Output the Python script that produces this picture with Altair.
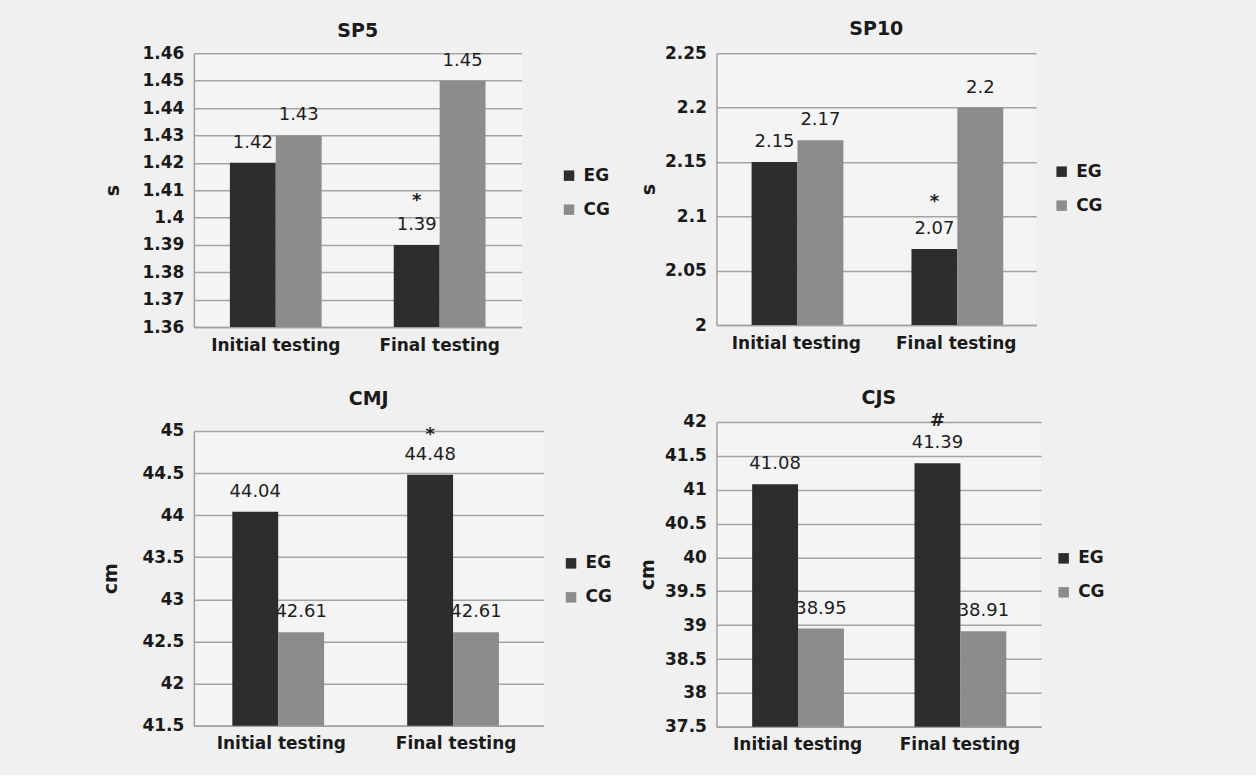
import altair as alt
import pandas as pd

# Shared categories
phases = ["Initial testing", "Final testing"]
groups = ["EG", "CG"]

# SP5 sprint time (s)
sp5_eg = [1.42, 1.39]
sp5_cg = [1.43, 1.45]
sp5_sig = ["", "*"]
sp5_ticks = [1.36, 1.37, 1.38, 1.39, 1.40, 1.41, 1.42, 1.43, 1.44, 1.45, 1.46]

# SP10 sprint time (s)
sp10_eg = [2.15, 2.07]
sp10_cg = [2.17, 2.20]
sp10_sig = ["", "*"]
sp10_ticks = [2.00, 2.05, 2.10, 2.15, 2.20, 2.25]

# CMJ jump height (cm)
cmj_eg = [44.04, 44.48]
cmj_cg = [42.61, 42.61]
cmj_sig = ["", "*"]
cmj_ticks = [41.5, 42.0, 42.5, 43.0, 43.5, 44.0, 44.5, 45.0]

# CJS jump height (cm)
cjs_eg = [41.08, 41.39]
cjs_cg = [38.95, 38.91]
cjs_sig = ["", "#"]
cjs_ticks = [37.5, 38.0, 38.5, 39.0, 39.5, 40.0, 40.5, 41.0, 41.5, 42.0]

FONT = "DejaVu Sans"
DARK = "#2d2d2d"
GREY = "#8c8c8c"


def panel(title, unit, eg, cg, sig, ticks, width, height,
          title_offset, title_pad, legend_x, legend_y, sig_dy):
    df = pd.DataFrame({
        "phase": phases + phases,
        "group": [groups[0]] * 2 + [groups[1]] * 2,
        "value": eg + cg,
        "sig": sig + ["", ""],
    })
    base = alt.Chart(df)
    x = alt.X("phase:N", sort=phases,
              scale=alt.Scale(paddingInner=0.44, paddingOuter=0.22),
              axis=alt.Axis(title=None, labelAngle=0, grid=False,
                            labelPadding=10))
    xo = alt.XOffset("group:N", sort=groups)
    y = alt.Y("value:Q",
              scale=alt.Scale(domain=[ticks[0], ticks[-1]], zero=False, nice=False),
              axis=alt.Axis(values=ticks, format="~g", title=unit,
                            titlePadding=title_pad, labelPadding=10))
    color = alt.Color("group:N", sort=groups,
                      scale=alt.Scale(domain=groups, range=[DARK, GREY]),
                      legend=alt.Legend(title=None, orient="none",
                                        legendX=legend_x, legendY=legend_y,
                                        symbolType="square", symbolSize=110,
                                        symbolStrokeWidth=0, rowPadding=16,
                                        labelFont=FONT, labelFontSize=17,
                                        labelFontWeight="bold", labelColor="#1a1a1a",
                                        labelOffset=6, padding=0))
    # bars start at the bottom of the value axis
    bars = base.mark_bar().encode(x=x, xOffset=xo, y=y,
                                  y2=alt.datum(ticks[0]), color=color)
    values = base.mark_text(dy=-20, font=FONT, fontSize=18, color="#1e1e1e",
                            baseline="middle").encode(
        x=x, xOffset=xo, y=y, text=alt.Text("value:Q", format="~g"))
    marks = base.transform_filter("datum.sig != ''").mark_text(
        dy=sig_dy, font=FONT, fontSize=18, fontWeight="bold",
        color="#1e1e1e", baseline="middle").encode(
        x=x, xOffset=xo, y=y, text="sig:N")
    return alt.layer(bars, values, marks).properties(
        width=width, height=height,
        title=alt.TitleParams(title, offset=title_offset, frame="group",
                              font=FONT, fontSize=19, fontWeight="bold",
                              color="#1a1a1a"))


sp5 = panel("SP5", "s", sp5_eg, sp5_cg, sp5_sig, sp5_ticks, 328, 274,
            3, 19, 367, 114, -44)
sp10 = panel("SP10", "s", sp10_eg, sp10_cg, sp10_sig, sp10_ticks, 320, 272,
             5, 6, 337, 110, -47)
cmj = panel("CMJ", "cm", cmj_eg, cmj_cg, cmj_sig, cmj_ticks, 350, 295,
            13, 21, 369, 124, -40)
cjs = panel("CJS", "cm", cjs_eg, cjs_cg, cjs_sig, cjs_ticks, 325, 305,
            4, 7, 339, 128, -42)

left = alt.vconcat(sp5, cmj, spacing=37).resolve_scale(
    x="independent", y="independent", color="independent").resolve_legend(color="independent")
right = alt.vconcat(sp10, cjs, spacing=38).resolve_scale(
    x="independent", y="independent", color="independent").resolve_legend(color="independent")

chart = alt.hconcat(left, right, spacing=26).resolve_scale(
    x="independent", y="independent", color="independent").resolve_legend(
    color="independent").properties(
    padding={"left": 102, "top": 20, "right": 151, "bottom": 22},
    background="#f0f0f0",
).configure_view(
    stroke=None, fill="#f4f4f4"
).configure_axis(
    labelFont=FONT, labelFontSize=17, labelFontWeight="bold", labelColor="#1a1a1a",
    titleFont=FONT, titleFontSize=19, titleFontWeight="bold", titleColor="#1a1a1a",
    domainColor="#a0a0a0", domainWidth=1.5, gridColor="#a4a4a4", gridWidth=1.5,
    ticks=False, tickSize=0,
).configure_axisY(grid=True)

chart.save("out.html", embed_options={"renderer": "svg", "actions": False})
